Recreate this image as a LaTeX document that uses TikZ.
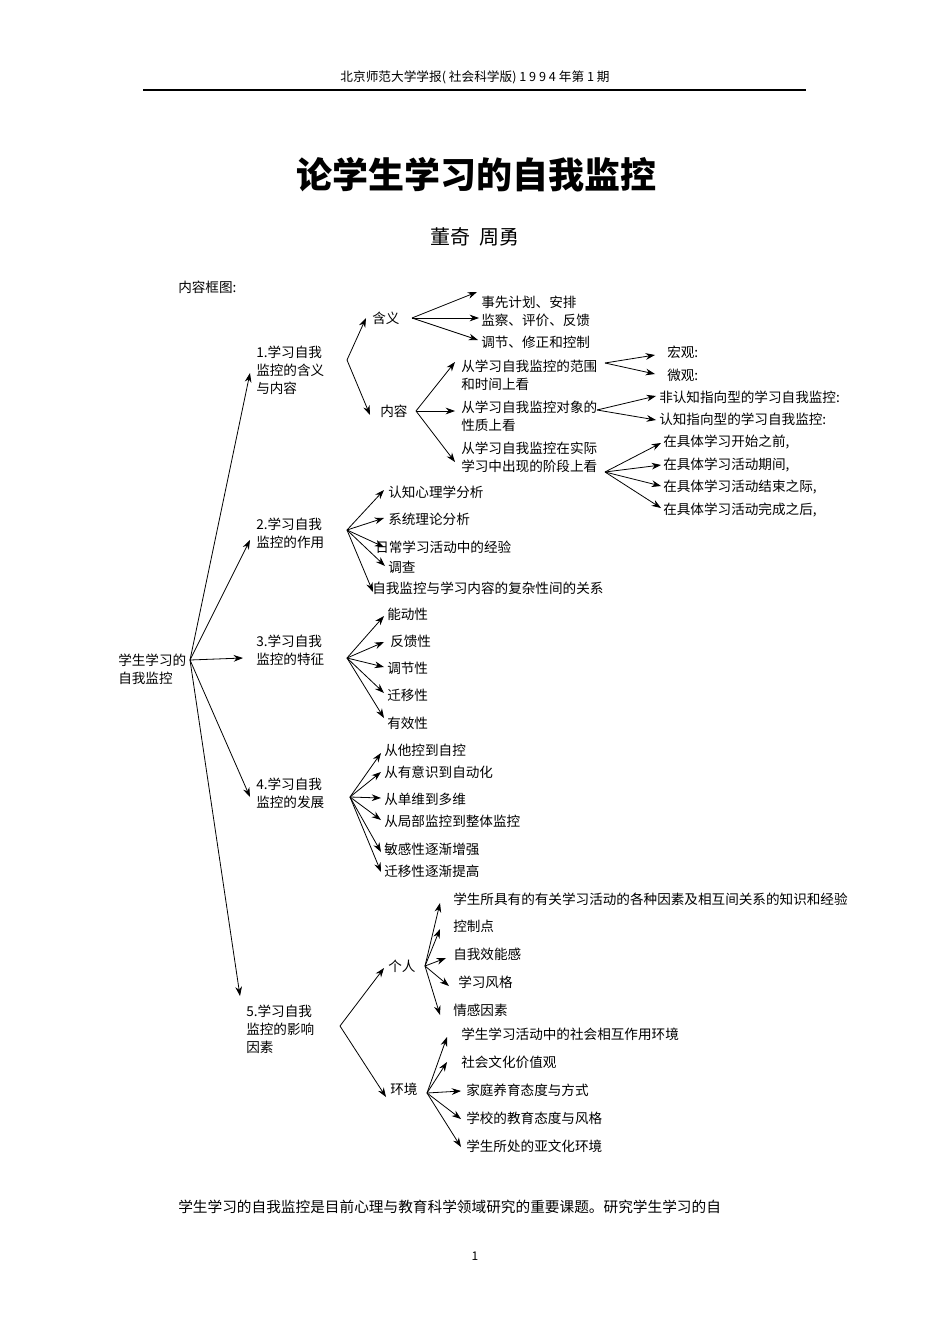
\documentclass[tikz,border=0pt]{standalone}
\usepackage{fontspec}
\setmainfont{Noto Sans CJK SC}
\usetikzlibrary{arrows.meta}
\begin{document}
\begin{tikzpicture}[x=0.75pt,y=-0.75pt,
 arr/.style={-{Stealth[length=7pt,width=5pt]},line width=0.6pt},
 t/.style={anchor=west,inner sep=0pt,font=\fontsize{10.2}{13.5}\selectfont,align=left}]
\useasboundingbox[fill=white] (0,0) rectangle (950,1344);
\node[font=\fontsize{9.5}{11}\selectfont] (hdr) at (475,77) {北京师范大学学报( 社会科学版) 1 9 9 4 年第 1 期};
\draw[line width=0.8pt] (143,90) -- (806,90);
\node[font=\fontsize{27}{30}\bfseries] (title) at (476,175) {论学生学习的自我监控};
\node[font=\fontsize{15}{18}\selectfont] (auth) at (475,237) {董奇\ \ 周勇};
\node[t] (lbl) at (178,287) {内容框图:};
% root
\node[t] (root) at (118,669) {学生学习的\\自我监控};
\coordinate (r) at (190,660);
\node[t] (n1) at (256,370) {1.学习自我\\监控的含义\\与内容};
\node[t] (n2) at (256,533) {2.学习自我\\监控的作用};
\node[t] (n3) at (256,650) {3.学习自我\\监控的特征};
\node[t] (n4) at (256,793) {4.学习自我\\监控的发展};
\node[t] (n5) at (246,1029) {5.学习自我\\监控的影响\\因素};
\draw[arr] (r) -- (250,373);
\draw[arr] (r) -- (250,540);
\draw[arr] (r) -- (243,658);
\draw[arr] (r) -- (250,797);
\draw[arr] (r) -- (240,996);
% node1
\coordinate (o1) at (347,360);
\node[t] (hy) at (372,318) {含义};
\node[t] (nr) at (380,411) {内容};
\draw[arr] (o1) -- (366,318);
\draw[arr] (o1) -- (370,415);
\coordinate (ohy) at (412,318);
\node[t] (a1) at (481,302) {事先计划、安排};
\node[t] (a2) at (481,320) {监察、评价、反馈};
\node[t] (a3) at (481,342) {调节、修正和控制};
\draw[arr] (ohy) -- (477,292);
\draw[arr] (ohy) -- (479,318);
\draw[arr] (ohy) -- (478,340);
\coordinate (onr) at (416,411);
\node[t] (b1) at (461,375) {从学习自我监控的范围\\和时间上看};
\node[t] (b2) at (461,416) {从学习自我监控对象的\\性质上看};
\node[t] (b3) at (461,457) {从学习自我监控在实际\\学习中出现的阶段上看};
\draw[arr] (onr) -- (455,362);
\draw[arr] (onr) -- (455,411);
\draw[arr] (onr) -- (455,462);
\coordinate (ob1) at (605,363);
\node[t] (c1) at (667,352) {宏观:};
\node[t] (c2) at (667,375) {微观:};
\draw[arr] (ob1) -- (655,355);
\draw[arr] (ob1) -- (655,374);
\coordinate (ob2) at (597,410);
\node[t] (d1) at (659,397) {非认知指向型的学习自我监控:};
\node[t] (d2) at (659,419) {认知指向型的学习自我监控:};
\draw[arr] (ob2) -- (656,396);
\draw[arr] (ob2) -- (656,420);
\coordinate (ob3) at (605,472);
\node[t] (e1) at (663,442) {在具体学习开始之前,};
\node[t] (e2) at (663,465) {在具体学习活动期间,};
\node[t] (e3) at (663,487) {在具体学习活动结束之际,};
\node[t] (e4) at (663,510) {在具体学习活动完成之后,};
\draw[arr] (ob3) -- (661,443);
\draw[arr] (ob3) -- (661,465);
\draw[arr] (ob3) -- (661,486);
\draw[arr] (ob3) -- (661,508);
% node2
\coordinate (o2) at (347,530);
\node[t] (f1) at (388,492) {认知心理学分析};
\node[t] (f2) at (388,519) {系统理论分析};
\node[t] (f3) at (375,547) {日常学习活动中的经验};
\node[t] (f4) at (388,567) {调查};
\node[t] (f5) at (372,588) {自我监控与学习内容的复杂性间的关系};
\draw[arr] (o2) -- (384,490);
\draw[arr] (o2) -- (384,518);
\draw[arr] (o2) -- (384,547);
\draw[arr] (o2) -- (385,566);
\draw[arr] (o2) -- (373,592);
% node3
\coordinate (o3) at (347,658);
\node[t] (g1) at (387,614) {能动性};
\node[t] (g2) at (390,641) {反馈性};
\node[t] (g3) at (387,668) {调节性};
\node[t] (g4) at (387,695) {迁移性};
\node[t] (g5) at (387,723) {有效性};
\draw[arr] (o3) -- (384,616);
\draw[arr] (o3) -- (384,642);
\draw[arr] (o3) -- (384,667);
\draw[arr] (o3) -- (384,693);
\draw[arr] (o3) -- (384,718);
% node4
\coordinate (o4) at (350,797);
\node[t] (h1) at (384,750) {从他控到自控};
\node[t] (h2) at (384,772) {从有意识到自动化};
\node[t] (h3) at (384,799) {从单维到多维};
\node[t] (h4) at (384,821) {从局部监控到整体监控};
\node[t] (h5) at (384,849) {敏感性逐渐增强};
\node[t] (h6) at (384,871) {迁移性逐渐提高};
\draw[arr] (o4) -- (381,753);
\draw[arr] (o4) -- (381,772);
\draw[arr] (o4) -- (381,798);
\draw[arr] (o4) -- (381,820);
\draw[arr] (o4) -- (381,852);
\draw[arr] (o4) -- (381,872);
% node5
\coordinate (o5) at (340,1026);
\node[t] (p) at (388,966) {个人};
\node[t] (env) at (390,1089) {环境};
\draw[arr] (o5) -- (384,968);
\draw[arr] (o5) -- (386,1097);
\coordinate (op) at (425,966);
\node[t] (i1) at (453,899) {学生所具有的有关学习活动的各种因素及相互间关系的知识和经验};
\node[t] (i2) at (453,926) {控制点};
\node[t] (i3) at (453,954) {自我效能感};
\node[t] (i4) at (458,982) {学习风格};
\node[t] (i5) at (453,1010) {情感因素};
\draw[arr] (op) -- (440,903);
\draw[arr] (op) -- (440,929);
\draw[arr] (op) -- (446,958);
\draw[arr] (op) -- (449,986);
\draw[arr] (op) -- (440,1015);
\coordinate (oe) at (427,1093);
\node[t] (j1) at (461,1034) {学生学习活动中的社会相互作用环境};
\node[t] (j2) at (461,1062) {社会文化价值观};
\node[t] (j3) at (466,1090) {家庭养育态度与方式};
\node[t] (j4) at (466,1118) {学校的教育态度与风格};
\node[t] (j5) at (466,1146) {学生所处的亚文化环境};
\draw[arr] (oe) -- (447,1037);
\draw[arr] (oe) -- (447,1062);
\draw[arr] (oe) -- (461,1091);
\draw[arr] (oe) -- (461,1119);
\draw[arr] (oe) -- (461,1147);
% bottom
\node[t,font=\fontsize{11}{13}\selectfont] (body) at (178,1207) {学生学习的自我监控是目前心理与教育科学领域研究的重要课题。研究学生学习的自};
\node[font=\fontsize{9}{11}\selectfont] (pg) at (475,1256) {1};
\end{tikzpicture}
\end{document}
